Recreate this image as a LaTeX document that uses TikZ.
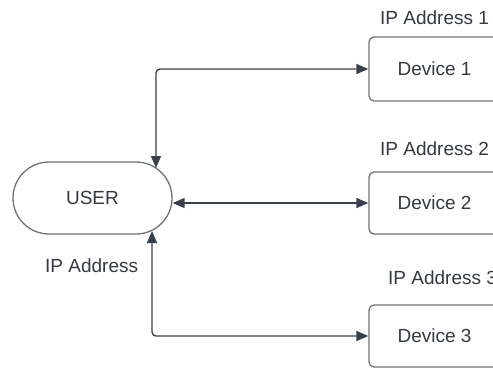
\documentclass[tikz,border=0pt]{standalone}
\usepackage{fontspec}
\setmainfont{Liberation Sans}
\usetikzlibrary{arrows.meta}
\definecolor{linec}{RGB}{58,64,74}
\definecolor{boxc}{RGB}{112,114,118}
\definecolor{txtc}{RGB}{52,56,64}
\begin{document}
\begin{tikzpicture}[x=1pt,y=-1pt,
  devbox/.style={draw=boxc, line width=1.3pt, rounded corners=5pt, minimum width=131pt, inner sep=0pt, text=txtc, font=\fontsize{19}{22}\selectfont},
  userbox/.style={draw=boxc, line width=1.3pt, rounded corners=36pt, minimum width=159pt, minimum height=72pt, inner sep=0pt, text=txtc, font=\fontsize{19}{22}\selectfont},
  lbl/.style={text=txtc, font=\fontsize{19}{22}\selectfont, inner sep=0pt},
  conn/.style={draw=linec, line width=1.4pt, rounded corners=4pt, {Triangle[length=12pt,width=10pt]}-{Triangle[length=12pt,width=10pt]}}]
\useasboundingbox (0,0) rectangle (493,368);
\clip (0,0) rectangle (493,368);
\node[userbox] (user) at (92.5,198) {USER};
\node[devbox, minimum height=64pt] (dev1) at (434.5,69) {Device 1};
\node[devbox, minimum height=62pt] (dev2) at (434.5,203) {Device 2};
\node[devbox, minimum height=62pt] (dev3) at (434.5,336) {Device 3};
\node[lbl, anchor=west] (ip1) at (380,18) {IP Address 1};
\node[lbl, anchor=west] (ip2) at (380,149) {IP Address 2};
\node[lbl, anchor=west] (ip3) at (388,278) {IP Address 3};
\node[lbl, anchor=west] (ipu) at (45,266) {IP Address};
\coordinate (utop) at (156,168);
\coordinate (ubot) at (152,231);
\draw[conn] (utop) |- (dev1.west);
\draw[conn] (user.east |- dev2.west) -- (dev2.west);
\draw[conn] (ubot) |- (dev3.west);
\end{tikzpicture}
\end{document}
